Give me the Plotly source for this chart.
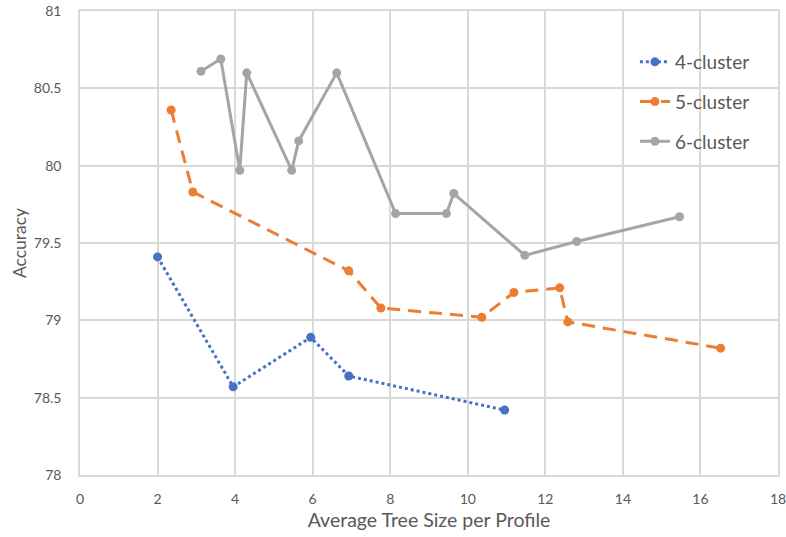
import plotly.graph_objects as go

x4 = [2.0, 3.95, 5.95, 6.93, 10.95]
y4 = [79.41, 78.57, 78.89, 78.64, 78.42]

x5 = [2.35, 2.91, 6.93, 7.76, 10.36, 11.19, 12.37, 12.58, 16.52]
y5 = [80.36, 79.83, 79.32, 79.08, 79.02, 79.18, 79.21, 78.99, 78.82]

x6 = [3.12, 3.63, 4.12, 4.30, 5.46, 5.64, 6.62, 8.14, 9.45, 9.64, 11.47, 12.81, 15.46]
y6 = [80.61, 80.69, 79.97, 80.60, 79.97, 80.16, 80.60, 79.69, 79.69, 79.82, 79.42, 79.51, 79.67]

names = ["4-cluster", "5-cluster", "6-cluster"]
colors = ["#4472C4", "#ED7D31", "#A5A5A5"]
dashes = ["dot", "13px,8px", "solid"]

FONT = "Lato, 'Open Sans', sans-serif"
GREY = "#595959"

fig = go.Figure()
for i, (xs, ys) in enumerate([(x4, y4), (x5, y5), (x6, y6)]):
    fig.add_trace(go.Scatter(
        x=xs, y=ys, name=names[i], mode="lines+markers",
        line=dict(color=colors[i], width=3, dash=dashes[i]),
        marker=dict(color=colors[i], size=9),
        legendgroup=names[i],
    ))

fig.update_layout(
    width=786, height=537,
    margin=dict(l=80, r=8, t=11, b=62, autoexpand=False),
    plot_bgcolor="white", paper_bgcolor="white",
    font=dict(family=FONT, color=GREY, size=14),
    legend=dict(x=0.795, y=0.931, xanchor="left", yanchor="top",
                font=dict(size=19, color=GREY), tracegroupgap=12,
                bgcolor="rgba(0,0,0,0)"),
    xaxis=dict(range=[0, 18], dtick=2, showgrid=True, gridcolor="#D9D9D9", gridwidth=1.5,
               zeroline=False, showline=True, linecolor="#D9D9D9", linewidth=1.5, mirror=True,
               ticks="", ticklabelstandoff=10, automargin=False, ticklabeloverflow="allow",
               title=dict(text="Average Tree Size per Profile", font=dict(size=19.5, color=GREY), standoff=8)),
    yaxis=dict(range=[78, 81], dtick=0.5, showgrid=True, gridcolor="#D9D9D9", gridwidth=1.5,
               zeroline=False, showline=True, linecolor="#D9D9D9", linewidth=1.5, mirror=True,
               ticks="", ticklabelstandoff=14, automargin=False, ticklabeloverflow="allow",
               title=dict(text="Accuracy", font=dict(size=17.5, color=GREY), standoff=3)),
)

fig.write_html("out.html", config={"displayModeBar": False},
               post_script="document.body.style.margin='0';document.body.style.overflow='hidden';")
